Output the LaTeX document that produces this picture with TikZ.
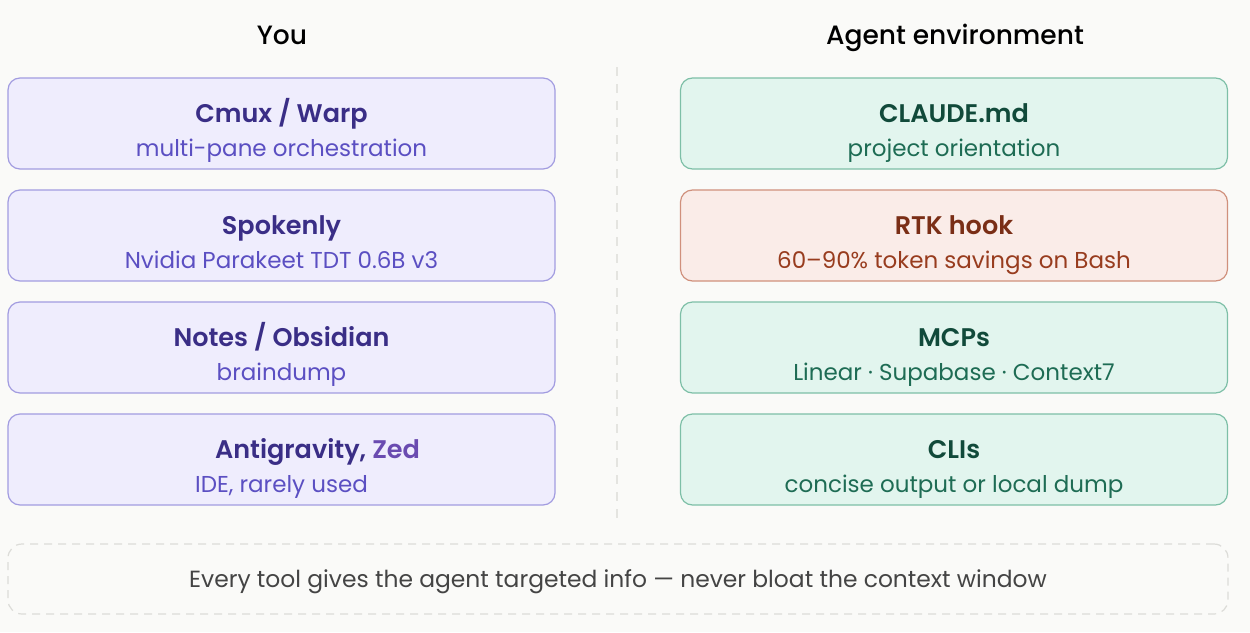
\documentclass[tikz,border=0pt]{standalone}
\usepackage{fontspec}
\setmainfont{Poppins}
\newfontfamily\medfont{Poppins Medium}
\newfontfamily\semifont{Poppins SemiBold}
\usetikzlibrary{calc}
\definecolor{bg}{HTML}{FAFAF8}
\definecolor{lfill}{HTML}{EFEDFD}
\definecolor{ldraw}{HTML}{A29CE0}
\definecolor{ltitle}{HTML}{3A2E86}
\definecolor{lsub}{HTML}{5B4FC2}
\definecolor{zedcol}{HTML}{6A4BB0}
\definecolor{gfill}{HTML}{E2F5EE}
\definecolor{gdraw}{HTML}{7DBFA7}
\definecolor{gtitle}{HTML}{114A3A}
\definecolor{gsub}{HTML}{1E6C54}
\definecolor{rfill}{HTML}{FAECE8}
\definecolor{rdraw}{HTML}{D0907C}
\definecolor{rtitle}{HTML}{7A2E16}
\definecolor{rsub}{HTML}{983C1E}
\definecolor{divcol}{HTML}{E4E4E0}
\definecolor{footcol}{HTML}{DCDCD8}
\definecolor{foottext}{HTML}{444444}
\tikzset{
  card/.style={rounded corners=12pt, minimum width=547pt, minimum height=91pt, line width=1.2pt, inner sep=0pt},
  lcard/.style={card, fill=lfill, draw=ldraw},
  gcard/.style={card, fill=gfill, draw=gdraw},
  rcard/.style={card, fill=rfill, draw=rdraw},
  ttl/.style={anchor=base, font=\fontsize{25.5}{30}\selectfont\semifont, inner sep=0pt},
  sub/.style={anchor=base, font=\fontsize{23}{27}\selectfont, inner sep=0pt},
  hdr/.style={anchor=base, font=\fontsize{26.5}{31}\selectfont\medfont, text=black, inner sep=0pt},
}
\begin{document}
\begin{tikzpicture}[x=1pt,y=-1pt]
\fill[bg] (0,0) rectangle (1250,632);
\useasboundingbox (0,0) rectangle (1250,632);
% headers
\node[hdr] (hyou) at (282,44) {You};
\node[hdr] (hagent) at (955,44) {Agent environment};
% divider
\coordinate (dtop) at (617,67);
\coordinate (dbot) at (617,520);
\draw[divcol, line width=1.5pt, dash pattern=on 9pt off 8pt] (dtop) -- (dbot);
% left column
\node[lcard] (l1) at (281.5,123.5) {};
\node[ttl, text=ltitle] (l1t) at ([yshift=1pt]l1.center) {Cmux / Warp};
\node[sub, text=lsub] (l1s) at ([yshift=-33pt]l1.center) {multi-pane orchestration};
\node[lcard] (l2) at (281.5,235.5) {};
\node[ttl, text=ltitle] (l2t) at ([yshift=1pt]l2.center) {Spokenly};
\node[sub, text=lsub] (l2s) at ([yshift=-33pt]l2.center) {Nvidia Parakeet TDT 0.6B v3};
\node[lcard] (l3) at (281.5,347.5) {};
\node[ttl, text=ltitle] (l3t) at ([yshift=1pt]l3.center) {Notes / Obsidian};
\node[sub, text=lsub] (l3s) at ([yshift=-33pt]l3.center) {braindump};
\node[lcard] (l4) at (281.5,459.5) {};
\node[ttl, text=ltitle] (l4t) at ([xshift=36pt,yshift=1pt]l4.center) {Antigravity, {\color{zedcol}Zed}};
\node[sub, text=lsub] (l4s) at ([yshift=-33pt]l4.center) {IDE, rarely used};
% right column
\node[gcard] (r1) at (954,123.5) {};
\node[ttl, text=gtitle] (r1t) at ([yshift=1pt]r1.center) {CLAUDE.md};
\node[sub, text=gsub] (r1s) at ([yshift=-33pt]r1.center) {project orientation};
\node[rcard] (r2) at (954,235.5) {};
\node[ttl, text=rtitle] (r2t) at ([yshift=1pt]r2.center) {RTK hook};
\node[sub, text=rsub] (r2s) at ([yshift=-33pt]r2.center) {60–90\% token savings on Bash};
\node[gcard] (r3) at (954,347.5) {};
\node[ttl, text=gtitle] (r3t) at ([yshift=1pt]r3.center) {MCPs};
\node[sub, text=gsub] (r3s) at ([yshift=-33pt]r3.center) {Linear · Supabase · Context7};
\node[gcard] (r4) at (954,459.5) {};
\node[ttl, text=gtitle] (r4t) at ([yshift=1pt]r4.center) {CLIs};
\node[sub, text=gsub] (r4s) at ([yshift=-33pt]r4.center) {concise output or local dump};
% footer
\node[rounded corners=14pt, draw=footcol, line width=1.2pt, dash pattern=on 8pt off 6pt, minimum width=1220pt, minimum height=70pt, inner sep=0pt] (foot) at (618,579) {};
\node[anchor=base, font=\fontsize{23.4}{28}\selectfont, text=foottext, inner sep=0pt] (foott) at ([yshift=-8pt]foot.center) {Every tool gives the agent targeted info — never bloat the context window};
\end{tikzpicture}
\end{document}
